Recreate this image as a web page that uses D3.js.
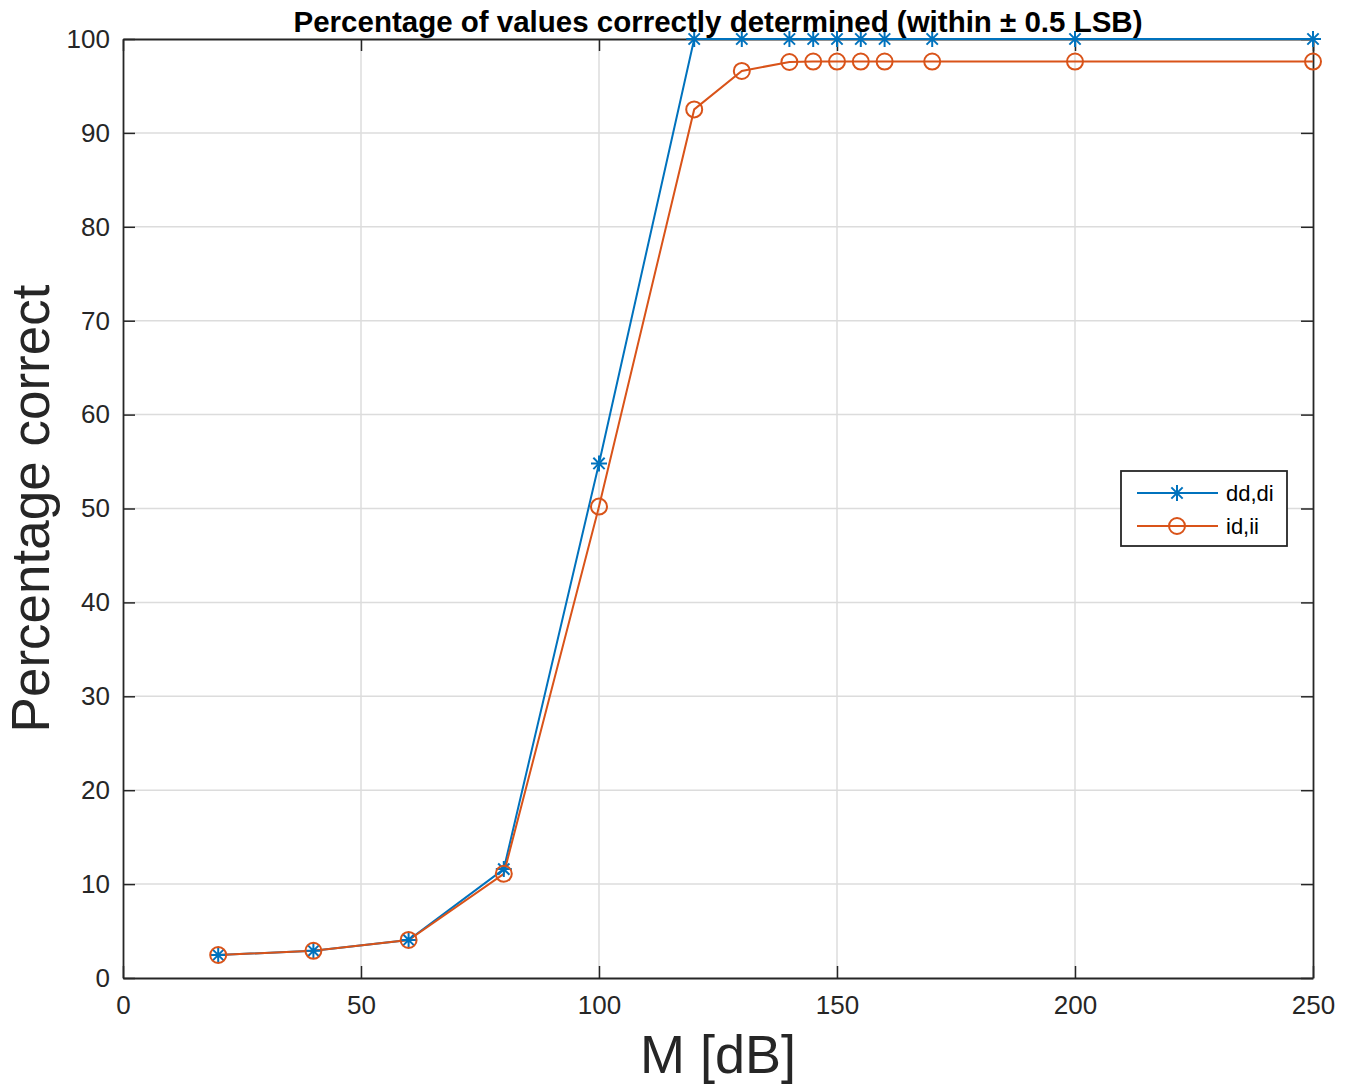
<!DOCTYPE html>
<html>
<head>
<meta charset="utf-8">
<script src="https://cdn.jsdelivr.net/npm/d3@7"></script>
<style>
  body { margin: 0; background: #fff; }
  svg { display: block; font-family: "Liberation Sans", Arial, Helvetica, sans-serif; }
</style>
</head>
<body>
<div id="chart"></div>
<script>
// data
const mValues = [20, 40, 60, 80, 100, 120, 130, 140, 145, 150, 155, 160, 170, 200, 250];
const ddDi = [2.45, 2.9, 4.05, 11.6, 54.8, 100, 100, 100, 100, 100, 100, 100, 100, 100, 100];
const idIi = [2.45, 2.9, 4.05, 11.1, 50.2, 92.5, 96.6, 97.55, 97.6, 97.6, 97.6, 97.6, 97.6, 97.6, 97.6];
const xTicks = [0, 50, 100, 150, 200, 250];
const yTicks = [0, 10, 20, 30, 40, 50, 60, 70, 80, 90, 100];
const seriesNames = ["dd,di", "id,ii"];
const seriesColors = ["#0072BD", "#D95319"];

const W = 1346, H = 1084;
const margin = {top: 39, right: 33, bottom: 106, left: 123};
const width = W - margin.left - margin.right;
const height = H - margin.top - margin.bottom;

const svg = d3.select("#chart").append("svg")
    .attr("width", W)
    .attr("height", H);

const x = d3.scaleLinear().domain([0, 250]).range([0, width]);
const y = d3.scaleLinear().domain([0, 100]).range([height, 0]);

const g = svg.append("g")
    .attr("transform", `translate(${margin.left},${margin.top})`);

// grid
g.append("g").selectAll("line")
    .data(xTicks.slice(1, -1))
    .join("line")
    .attr("x1", d => x(d)).attr("x2", d => x(d))
    .attr("y1", 0).attr("y2", height)
    .attr("stroke", "#dcdcdc").attr("stroke-width", 1.5);
g.append("g").selectAll("line")
    .data(yTicks.slice(1, -1))
    .join("line")
    .attr("y1", d => y(d)).attr("y2", d => y(d))
    .attr("x1", 0).attr("x2", width)
    .attr("stroke", "#dcdcdc").attr("stroke-width", 1.5);

// axes, matlab style: ticks inside, on all four sides
const tickLen = 12;
const axisColor = "#262626";
const xb = g.append("g").attr("transform", `translate(0,${height})`)
    .call(d3.axisBottom(x).tickValues(xTicks).tickSizeInner(-tickLen).tickSizeOuter(0).tickPadding(18));
const xt = g.append("g")
    .call(d3.axisTop(x).tickValues(xTicks).tickSizeInner(-tickLen).tickSizeOuter(0).tickFormat(""));
const yl = g.append("g")
    .call(d3.axisLeft(y).tickValues(yTicks).tickSizeInner(-tickLen).tickSizeOuter(0).tickPadding(13));
const yr = g.append("g").attr("transform", `translate(${width},0)`)
    .call(d3.axisRight(y).tickValues(yTicks).tickSizeInner(-tickLen).tickSizeOuter(0).tickFormat(""));

[xb, xt, yl, yr].forEach(a => {
    a.select(".domain").attr("stroke", axisColor).attr("stroke-width", 1.8);
    a.selectAll(".tick line").attr("stroke", axisColor).attr("stroke-width", 1.5);
    a.selectAll(".tick text")
        .attr("fill", axisColor)
        .style("font-size", "26px")
        .style("font-family", "'Liberation Sans', Arial, sans-serif");
});

// lines
const line = d3.line()
    .x((d, i) => x(mValues[i]))
    .y(d => y(d));

const allSeries = [ddDi, idIi];
allSeries.forEach((vals, s) => {
    g.append("path")
        .datum(vals)
        .attr("fill", "none")
        .attr("stroke", seriesColors[s])
        .attr("stroke-width", 2)
        .attr("d", line);
});

// markers
const starPath = r => {
    let p = "";
    for (let k = 0; k < 4; k++) {
        const a = k * Math.PI / 4;
        const dx = Math.cos(a) * r, dy = Math.sin(a) * r;
        p += `M${-dx},${-dy}L${dx},${dy}`;
    }
    return p;
};

g.append("g").selectAll("path")
    .data(ddDi)
    .join("path")
    .attr("transform", (d, i) => `translate(${x(mValues[i])},${y(d)})`)
    .attr("d", starPath(8))
    .attr("stroke", seriesColors[0])
    .attr("stroke-width", 2)
    .attr("fill", "none");

g.append("g").selectAll("circle")
    .data(idIi)
    .join("circle")
    .attr("cx", (d, i) => x(mValues[i]))
    .attr("cy", d => y(d))
    .attr("r", 8)
    .attr("stroke", seriesColors[1])
    .attr("stroke-width", 2)
    .attr("fill", "none");

// title
svg.append("text")
    .attr("x", margin.left + width / 2)
    .attr("y", 32)
    .attr("text-anchor", "middle")
    .style("font-size", "29.5px")
    .style("font-weight", "bold")
    .attr("fill", "#000")
    .text("Percentage of values correctly determined (within \u00b1 0.5 LSB)");

// axis labels
svg.append("text")
    .attr("x", margin.left + width / 2)
    .attr("y", 1073)
    .attr("text-anchor", "middle")
    .style("font-size", "54px")
    .attr("fill", axisColor)
    .text("M [dB]");

svg.append("text")
    .attr("transform", `translate(49,${margin.top + height / 2}) rotate(-90)`)
    .attr("text-anchor", "middle")
    .style("font-size", "53px")
    .attr("fill", axisColor)
    .text("Percentage correct");

// legend
const lg = svg.append("g").attr("transform", "translate(1121,471)");
lg.append("rect")
    .attr("width", 166).attr("height", 75)
    .attr("fill", "#fff")
    .attr("stroke", axisColor).attr("stroke-width", 1.8);
seriesNames.forEach((name, s) => {
    const row = lg.append("g").attr("transform", `translate(0,${22 + s * 33})`);
    row.append("line")
        .attr("x1", 16).attr("x2", 97)
        .attr("stroke", seriesColors[s]).attr("stroke-width", 2);
    if (s === 0) {
        row.append("path")
            .attr("transform", "translate(56,0)")
            .attr("d", starPath(8))
            .attr("stroke", seriesColors[s]).attr("stroke-width", 2);
    } else {
        row.append("circle")
            .attr("cx", 56).attr("r", 8)
            .attr("fill", "none")
            .attr("stroke", seriesColors[s]).attr("stroke-width", 2);
    }
    row.append("text")
        .attr("x", 105).attr("dy", "0.35em")
        .style("font-size", "22px")
        .attr("fill", "#000")
        .text(name);
});
</script>
</body>
</html>
